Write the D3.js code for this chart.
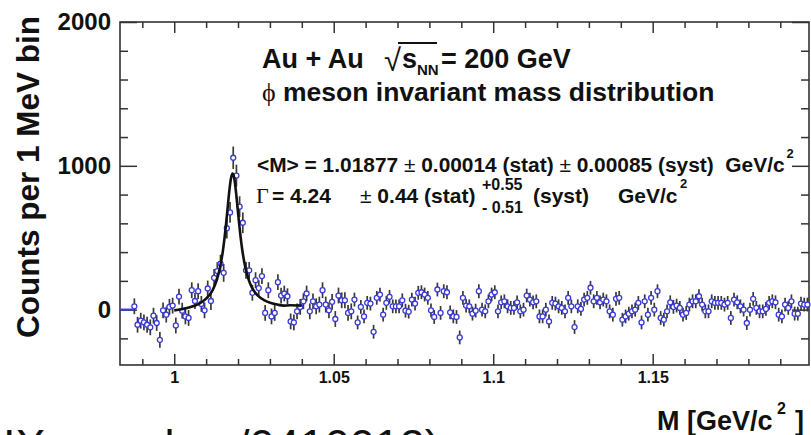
<!DOCTYPE html>
<html><head><meta charset="utf-8">
<script src="https://cdn.jsdelivr.net/npm/d3@7"></script>
<style>
body{margin:0;background:#fff}
svg{display:block}
text{font-family:"Liberation Sans",Arial,Helvetica,sans-serif;fill:#111;white-space:pre}
</style>
</head><body>
<svg id="c" width="811" height="435"></svg>
<script>
// ---- data (1 MeV bins, first bin centre = binLow + binWidth/2) ----
const binLow = 0.983;
const binWidth = 0.001;
const counts = [
  0, 0, 0, 0,
  23, -105, -77, -88, -105, -123, -42, -93, -210, -5,
  -35, 19, 28, -110, 91, -7, -47, -58, 135, 60,
  128, 40, -5, 147, 60, 221, 268, 320, 256, 566,
  676, 1056, 932, 716, 604, 273, 273, 117, 205, 150,
  233, -23, 135, -47, -23, 191, 98, 112, 93, -82,
  -89, -12, 19, 58, 112, -12, 58, 23, 35, 135,
  35, -5, 54, -65, 98, 65, 65, -23, -12, 70,
  -89, 19, -47, 47, 42, -154, 82, 105, -35, 47,
  89, 23, 23, 23, 65, -7, -14, 70, 42, 117,
  121, 105, 82, -5, -51, 140, -23, 128, 121, -19,
  -47, -51, -193, 82, 28, 23, -28, -7, 128, 0,
  -12, 58, 105, 121, -12, 51, 58, 23, 12, 12,
  51, -12, 0, 98, 70, 51, 58, -47, -47, 0,
  -82, 47, 42, 23, 12, -12, 82, 23, -121, 23,
  5, 70, 82, 152, 58, 82, 51, 70, 58, -12,
  -35, 75, 82, -70, -47, -28, -12, 0, 47, -89,
  58, -35, 82, 0, 128, -58, -70, -12, 51, 19,
  28, 12, -35, -23, 35, 58, 58, 93, 35, -12,
  -12, 58, 47, 47, 47, 35, 47, -58, 70, 51,
  23, 0, -93, 0, 75, 12, -12, -12, 5, 47,
  58, 51, -35, -47, 35, 12, 58, -28, -28, 42,
  35, 35
];
const errors = [
  0, 0, 0, 0,
  55, 55, 55, 55, 55, 55, 55, 55, 55, 55,
  55, 55, 55, 55, 55, 55, 55, 55, 55, 55,
  55, 55, 55, 55, 62, 62, 62, 62, 62, 72,
  72, 78, 76, 72, 72, 58, 58, 55, 55, 55,
  55, 55, 55, 55, 55, 55, 55, 55, 55, 55,
  55, 55, 55, 55, 55, 55, 55, 55, 55, 55,
  55, 55, 55, 55, 55, 55, 55, 55, 55, 48,
  48, 48, 48, 48, 48, 48, 48, 48, 48, 48,
  48, 48, 48, 48, 48, 48, 48, 48, 48, 48,
  48, 48, 48, 48, 48, 48, 48, 48, 48, 48,
  48, 48, 48, 48, 48, 48, 48, 48, 48, 48,
  48, 48, 48, 48, 48, 48, 48, 48, 48, 48,
  48, 48, 48, 48, 48, 48, 48, 48, 48, 48,
  48, 48, 48, 48, 48, 48, 48, 48, 48, 48,
  48, 48, 48, 48, 48, 48, 48, 48, 48, 48,
  48, 48, 48, 48, 48, 48, 48, 48, 48, 48,
  48, 48, 48, 48, 48, 48, 48, 48, 48, 48,
  48, 48, 48, 48, 48, 48, 48, 48, 48, 48,
  48, 48, 48, 48, 48, 48, 48, 48, 48, 48,
  48, 48, 48, 48, 48, 48, 48, 48, 48, 48,
  48, 48, 48, 48, 48, 48, 48, 48, 48, 48,
  48, 48
];
// fit curve
const fitM = [1.0000, 1.0040, 1.0080, 1.0100, 1.0120, 1.0133, 1.0143, 1.0153, 1.0158, 1.0163,
              1.0168, 1.0173, 1.0178, 1.0183, 1.0188, 1.0193, 1.0198, 1.0203, 1.0208, 1.0213,
              1.0223, 1.0233, 1.0243, 1.0253, 1.0263, 1.0283, 1.0303, 1.0323, 1.0343, 1.0363, 1.0400];
const fitY = [-5, 12, 44, 76, 134, 203, 287, 416, 504, 607,
              720, 831, 914, 946, 915, 832, 722, 609, 506, 420,
              293, 211, 157, 121, 96, 64, 46, 35, 28, 30, 27];
const xMajor = [1, 1.05, 1.1, 1.15];
const xMajorLabels = ["1", "1.05", "1.1", "1.15"];
const xMinor = [0.99, 1.01, 1.02, 1.03, 1.04, 1.06, 1.07, 1.08, 1.09, 1.11, 1.12, 1.13, 1.14, 1.16, 1.17, 1.18, 1.19];
const yMajor = [0, 1000, 2000];
const yMajorLabels = ["0", "1000", "2000"];
const yMinor = [-200, 200, 400, 600, 800, 1200, 1400, 1600, 1800];

// ---- layout ----
const L = 120, R = 809, T = 22, B = 365;
const svg = d3.select("#c");
const x = d3.scaleLinear().domain([0.983, 1.199]).range([L, R]);
const y = d3.scaleLinear().domain([-385, 2000]).range([B, T]);
const axisCol = "#333";

function styleAxis(g) {
  g.select(".domain").remove();
  g.selectAll(".tick line").attr("stroke", axisCol).attr("stroke-width", 1.5);
}

// bottom axis
svg.append("g").attr("transform", `translate(0,${B})`)
  .call(d3.axisBottom(x).tickValues(xMinor).tickSize(-6).tickFormat(""))
  .call(styleAxis);
svg.append("g").attr("transform", `translate(0,${B})`)
  .call(d3.axisBottom(x).tickValues(xMajor).tickSize(-11).tickPadding(7)
        .tickFormat((d, i) => xMajorLabels[i]))
  .call(styleAxis)
  .call(g => g.selectAll("text").attr("font-size", 16).attr("font-weight", "bold").attr("fill", "#111"));
// top axis
svg.append("g").attr("transform", `translate(0,${T})`)
  .call(d3.axisTop(x).tickValues(xMinor).tickSize(-6).tickFormat(""))
  .call(styleAxis);
svg.append("g").attr("transform", `translate(0,${T})`)
  .call(d3.axisTop(x).tickValues(xMajor).tickSize(-11).tickFormat(""))
  .call(styleAxis);
// left axis
svg.append("g").attr("transform", `translate(${L},0)`)
  .call(d3.axisLeft(y).tickValues(yMinor).tickSize(-8).tickFormat(""))
  .call(styleAxis);
svg.append("g").attr("transform", `translate(${L},0)`)
  .call(d3.axisLeft(y).tickValues(yMajor).tickSize(-17).tickPadding(9)
        .tickFormat((d, i) => yMajorLabels[i]))
  .call(styleAxis)
  .call(g => g.selectAll("text").attr("font-size", 24).attr("font-weight", "bold").attr("fill", "#111"));
// right axis
svg.append("g").attr("transform", `translate(${R},0)`)
  .call(d3.axisRight(y).tickValues(yMinor).tickSize(-8).tickFormat(""))
  .call(styleAxis);
svg.append("g").attr("transform", `translate(${R},0)`)
  .call(d3.axisRight(y).tickValues(yMajor).tickSize(-17).tickFormat(""))
  .call(styleAxis);
// frame
svg.append("rect").attr("x", L).attr("y", T).attr("width", R - L).attr("height", B - T)
  .attr("fill", "none").attr("stroke", axisCol).attr("stroke-width", 1.6);

// ---- data points ----
const pts = counts.map((v, i) => ({m: binLow + binWidth * (i + 0.5), v, e: errors[i]}));
const plot = svg.append("g");
plot.selectAll("line.zero").data(pts.filter(d => d.e === 0)).join("line")
  .attr("x1", d => x(d.m - binWidth / 2)).attr("x2", d => x(d.m + binWidth / 2))
  .attr("y1", d => y(d.v)).attr("y2", d => y(d.v))
  .attr("stroke", "#3a3ad8").attr("stroke-width", 2.2);
const withErr = pts.filter(d => d.e > 0);
plot.selectAll("line.err").data(withErr).join("line")
  .attr("x1", d => x(d.m)).attr("x2", d => x(d.m))
  .attr("y1", d => y(d.v - d.e)).attr("y2", d => y(d.v + d.e))
  .attr("stroke", "#383838").attr("stroke-width", 1.7);

// fit curve
const line = d3.line().x((d, i) => x(fitM[i])).y(d => y(d)).curve(d3.curveMonotoneX);
svg.append("path").attr("d", line(fitY)).attr("fill", "none")
  .attr("stroke", "#111").attr("stroke-width", 2.6);

plot.append("g").selectAll("circle").data(withErr).join("circle")
  .attr("cx", d => x(d.m)).attr("cy", d => y(d.v)).attr("r", 2.5)
  .attr("fill", "#fff").attr("stroke", "#3a3ad8").attr("stroke-width", 1.3);

// ---- texts ----
function txt(str, px, py, size, opts = {}) {
  const t = svg.append("text").attr("x", px).attr("y", py).attr("font-size", size)
    .attr("font-weight", opts.weight || "bold")
    .attr("text-anchor", opts.anchor || "start")
    .text(str);
  if (opts.family) t.style("font-family", opts.family);
  return t;
}
// axis titles
svg.append("text").attr("font-size", 31.5).attr("font-weight", "bold")
  .attr("text-anchor", "middle")
  .attr("transform", "translate(39,177) rotate(-90)")
  .text("Counts per 1 MeV bin");
txt("M [GeV/c", 657, 430, 27);
txt("2", 777, 414, 16);
txt("]", 795, 430, 27);

// title
txt("Au + Au", 262, 68, 27);
txt("\u221A", 384, 71, 31, {weight: "normal"});
svg.append("path").attr("d", "M398,43 H437").attr("stroke", "#111").attr("stroke-width", 1.8);
txt("s", 402, 68, 27);
txt("NN", 417, 75, 15);
txt("= 200 GeV", 441, 68, 27);
txt("\u03D5", 262, 101, 26, {weight: "normal", family: "'Liberation Serif', serif"});
txt("meson invariant mass distribution", 283, 101, 26.5);

// stats line 1
const s1 = svg.append("text").attr("x", 257).attr("y", 172).attr("font-size", 20.9).attr("font-weight", "bold");
s1.append("tspan").text("<M> = 1.01877 ");
s1.append("tspan").attr("font-weight", "normal").text("\u00B1");
s1.append("tspan").text(" 0.00014 (stat) ");
s1.append("tspan").attr("font-weight", "normal").text("\u00B1");
s1.append("tspan").text(" 0.00085 (syst)  GeV/c");
s1.append("tspan").attr("font-size", 13).attr("dy", -14).attr("dx", 2).text("2");

// stats line 2
const l2 = 203;
txt("\u0393", 256, l2, 22, {weight: "normal", family: "'Liberation Serif', serif"});
txt("= 4.24", 272, l2, 21);
const s2 = svg.append("text").attr("x", 360).attr("y", l2).attr("font-size", 21).attr("font-weight", "bold");
s2.append("tspan").attr("font-weight", "normal").text("\u00B1");
s2.append("tspan").text(" 0.44 (stat)");
txt("+0.55", 482, 190, 16);
txt("- 0.51", 482, 213, 16);
txt("(syst)", 533, l2, 21);
txt("GeV/c", 618, l2, 21);
txt("2", 680, 188, 13);

// cropped caption at the bottom
txt("PHENIX,", 58, 461, 45, {weight: "normal", anchor: "end"});
txt("nucl-ex/0410012)", 92, 461, 45, {weight: "normal"});
</script>
</body></html>
